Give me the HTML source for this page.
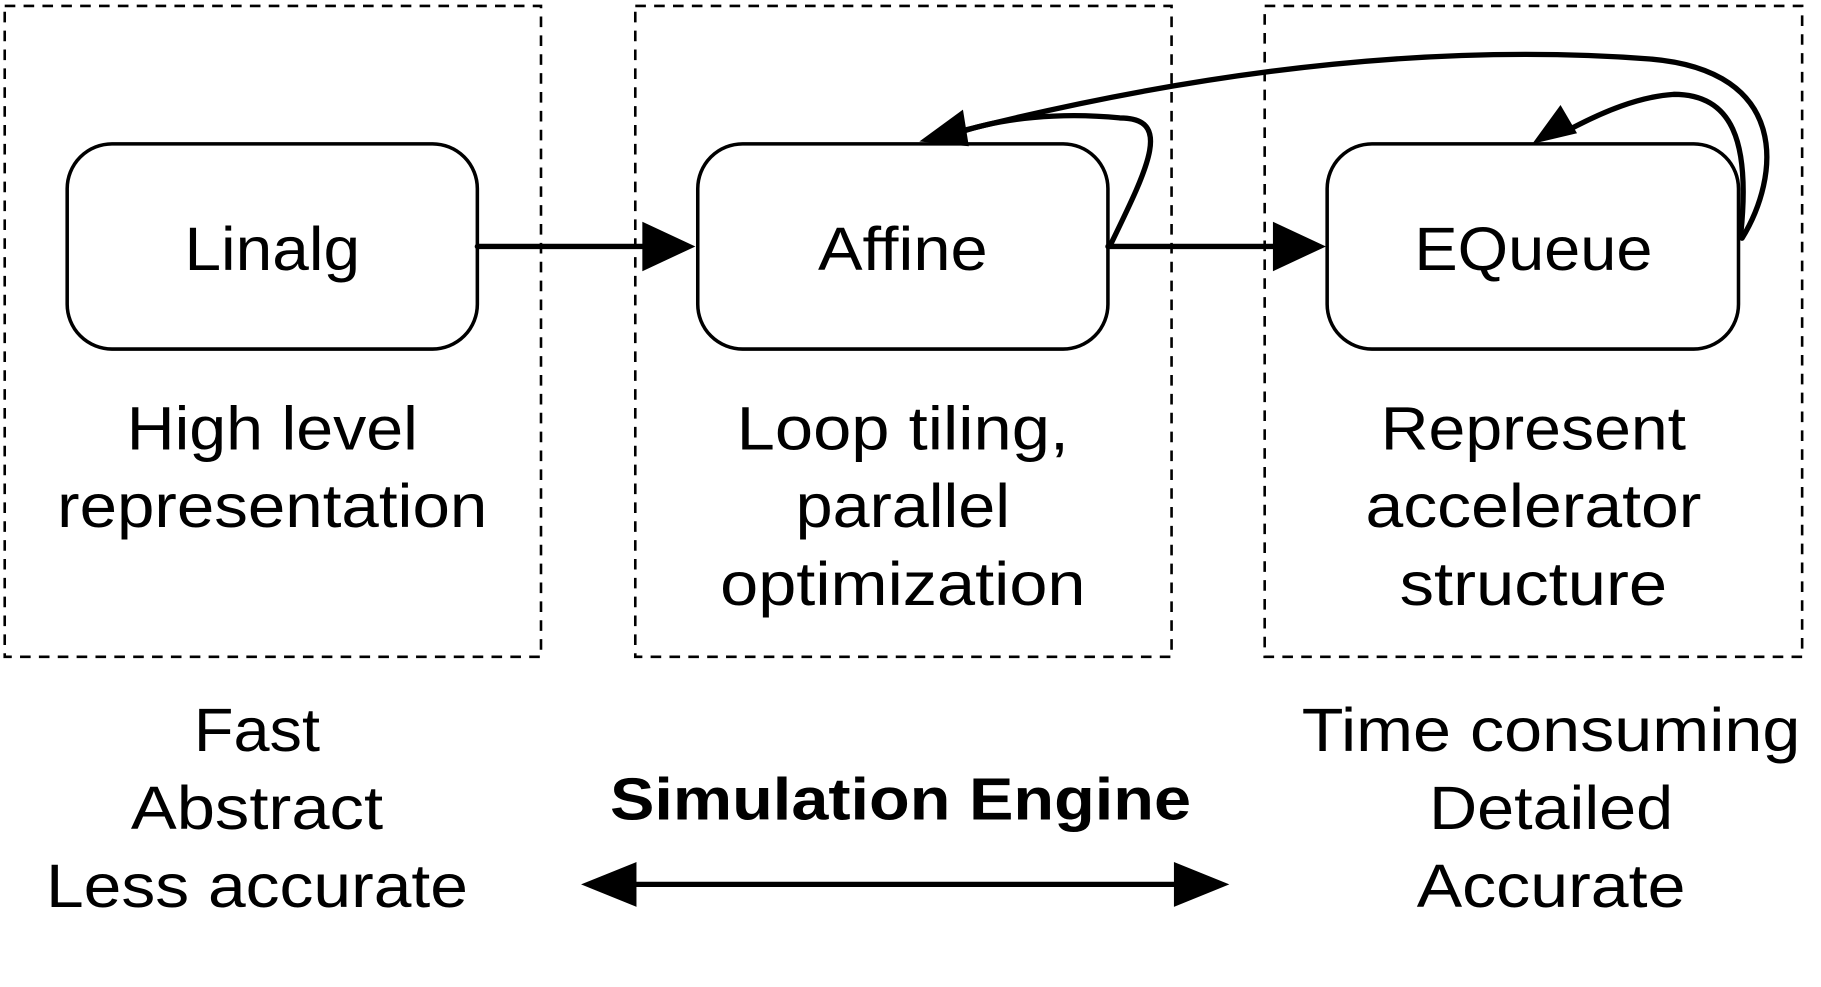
<!DOCTYPE html>
<html><head><style>html,body{margin:0;padding:0;background:#fff}svg{display:block}text{font-family:"Liberation Sans",sans-serif;fill:#000}</style></head>
<body>
<svg width="1821" height="987" viewBox="0 0 1545 837" preserveAspectRatio="none" xmlns="http://www.w3.org/2000/svg">
<g fill="none" stroke="#000" stroke-width="2.2" stroke-dasharray="9,7">
<rect x="4" y="5" width="455" height="552"/>
<rect x="539" y="5" width="455" height="552"/>
<rect x="1073" y="5" width="456" height="552"/>
</g>
<g fill="#fff" stroke="#000" stroke-width="3">
<rect x="57" y="122" width="348" height="174" rx="38"/>
<rect x="592" y="122" width="348" height="174" rx="38"/>
<rect x="1126" y="122" width="349" height="174" rx="38"/>
</g>
<g font-size="52" text-anchor="middle" lengthAdjust="spacingAndGlyphs">
<text x="231" y="229" textLength="149" lengthAdjust="spacingAndGlyphs">Linalg</text>
<text x="766" y="229" textLength="144" lengthAdjust="spacingAndGlyphs">Affine</text>
<text x="1301" y="229" textLength="202" lengthAdjust="spacingAndGlyphs">EQueue</text>
<text x="231" y="381" textLength="247" lengthAdjust="spacingAndGlyphs">High level</text>
<text x="231" y="447" textLength="365" lengthAdjust="spacingAndGlyphs">representation</text>
<text x="766" y="381" textLength="282" lengthAdjust="spacingAndGlyphs">Loop tiling,</text>
<text x="766" y="447" textLength="182" lengthAdjust="spacingAndGlyphs">parallel</text>
<text x="766" y="513" textLength="310" lengthAdjust="spacingAndGlyphs">optimization</text>
<text x="1301" y="381" textLength="259" lengthAdjust="spacingAndGlyphs">Represent</text>
<text x="1301" y="447" textLength="285" lengthAdjust="spacingAndGlyphs">accelerator</text>
<text x="1301" y="513" textLength="227" lengthAdjust="spacingAndGlyphs">structure</text>
<text x="218" y="637" textLength="107" lengthAdjust="spacingAndGlyphs">Fast</text>
<text x="218" y="703" textLength="214" lengthAdjust="spacingAndGlyphs">Abstract</text>
<text x="218" y="769" textLength="358" lengthAdjust="spacingAndGlyphs">Less accurate</text>
<text x="1316" y="637" textLength="423" lengthAdjust="spacingAndGlyphs">Time consuming</text>
<text x="1316" y="703" textLength="207" lengthAdjust="spacingAndGlyphs">Detailed</text>
<text x="1316" y="769" textLength="228" lengthAdjust="spacingAndGlyphs">Accurate</text>
<text x="764" y="695" font-weight="bold" font-size="50" textLength="493" lengthAdjust="spacingAndGlyphs">Simulation Engine</text>
</g>
<g stroke="#000" stroke-width="4.5" fill="none" stroke-linecap="round">
<line x1="405" y1="209" x2="548" y2="209"/>
<line x1="940" y1="209" x2="1083" y2="209"/>
<line x1="535" y1="750" x2="1000" y2="750"/>
<path d="M942,208 C975,140 995,100 950,100 C900,95 850,100 815,112"/>
<path d="M1478,202 C1510,150 1520,60 1400,50 C1200,35 1000,65 820,110"/>
<path d="M1477,198 C1485,120 1470,80 1420,80 C1390,82 1360,95 1335,108"/>
</g>
<g fill="#000">
<polygon points="590,209 545,188 545,230"/>
<polygon points="1125,209 1080,188 1080,230"/>
<polygon points="493,750 540,731 540,769"/>
<polygon points="1043,750 996,731 996,769"/>
<polygon points="780,120 817,93 822,124"/>
<polygon points="1300,122 1324,89 1338,113"/>
</g>
</svg>
</body></html>
